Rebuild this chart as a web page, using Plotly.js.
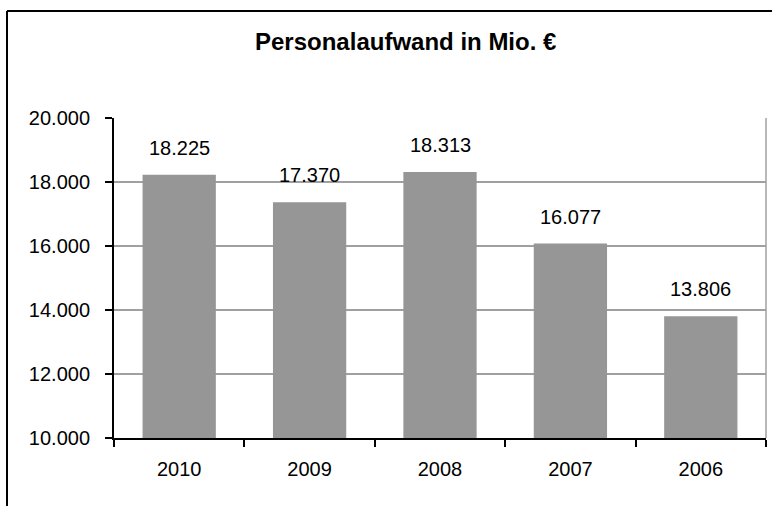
<!DOCTYPE html>
<html>
<head>
<meta charset="utf-8">
<script src="https://cdn.plot.ly/plotly-3.0.1.min.js"></script>
<style>
html,body{margin:0;padding:0;background:#fff;}
#chart{width:772px;height:506px;}
</style>
</head>
<body>
<div id="chart"></div>
<script>
const years = ['2010', '2009', '2008', '2007', '2006'];
const values = [18225, 17370, 18313, 16077, 13806];
const yTicks = [10000, 12000, 14000, 16000, 18000, 20000];
const yTickLabels = ['10.000', '12.000', '14.000', '16.000', '18.000', '20.000'];
const titleText = 'Personalaufwand in Mio. €';

function fmt(v) {
  return String(v).replace(/\B(?=(\d{3})+(?!\d))/g, '.');
}

const FONT = 'Liberation Sans, Arial, sans-serif';
const L = 114, R = 6, T = 118, B = 68;
const W = 772, H = 506;
const pw = W - L - R, ph = H - T - B;

const annotations = years.map((y, i) => ({
  x: i, y: values[i], xref: 'x', yref: 'y',
  text: fmt(values[i]), showarrow: false,
  yanchor: 'middle', xanchor: 'center', yshift: 27,
  font: {family: FONT, size: 20, color: '#000'}
}));

annotations.push({
  xref: 'paper', yref: 'paper',
  x: (405 - L) / pw, y: 1 + (T - 42) / ph,
  xanchor: 'center', yanchor: 'middle', showarrow: false,
  text: '<b>' + titleText + '</b>',
  font: {family: FONT, size: 24, color: '#000'}
});

const shapes = [
  {type: 'line', xref: 'paper', yref: 'paper', x0: 1, x1: 1, y0: 0, y1: 1,
   line: {color: '#a0a0a0', width: 1.5}},
  {type: 'line', xref: 'paper', yref: 'paper',
   x0: (7 - L) / pw, x1: 1 + 50 / pw, y0: 1 + (T - 11) / ph, y1: 1 + (T - 11) / ph,
   line: {color: '#000', width: 2}},
  {type: 'line', xref: 'paper', yref: 'paper',
   x0: (7 - L) / pw, x1: (7 - L) / pw, y0: 1 + (T - 11) / ph, y1: -(B + 50) / ph,
   line: {color: '#000', width: 2}}
];

const trace = {
  type: 'bar', x: years, y: values,
  marker: {color: '#969696', line: {width: 0}},
  hoverinfo: 'none'
};

const layout = {
  width: W, height: H,
  margin: {l: L, r: R, t: T, b: B, pad: 0},
  paper_bgcolor: '#fff', plot_bgcolor: '#fff',
  showlegend: false,
  bargap: 0.438,
  font: {family: FONT, size: 20, color: '#000'},
  xaxis: {
    type: 'category',
    range: [-0.5, years.length - 0.5],
    showline: true, linecolor: '#000', linewidth: 2,
    ticks: 'outside', tickson: 'boundaries', ticklen: 7, tickwidth: 2, tickcolor: '#000',
    showgrid: false, zeroline: false,
    tickangle: 0,
    ticklabelstandoff: 12,
    tickfont: {family: FONT, size: 20, color: '#000'},
    fixedrange: true
  },
  yaxis: {
    range: [10000, 20000],
    tickvals: yTicks, ticktext: yTickLabels,
    showline: true, linecolor: '#000', linewidth: 2,
    ticks: 'outside', ticklen: 7, tickwidth: 2, tickcolor: '#000',
    showgrid: true, gridcolor: '#a0a0a0', gridwidth: 1.5,
    zeroline: false,
    ticklabelstandoff: 11,
    tickfont: {family: FONT, size: 20, color: '#000'},
    fixedrange: true
  },
  annotations: annotations,
  shapes: shapes
};

Plotly.newPlot('chart', [trace], layout, {displayModeBar: false, staticPlot: true});
</script>
</body>
</html>
